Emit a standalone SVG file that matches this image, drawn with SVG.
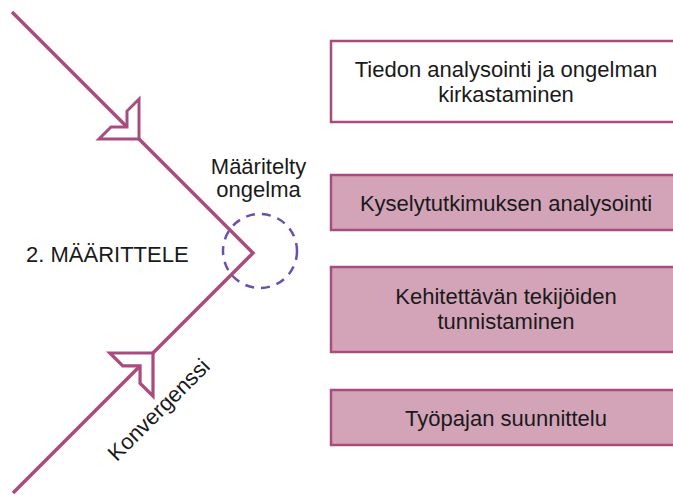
<svg xmlns="http://www.w3.org/2000/svg" width="673" height="495" viewBox="0 0 673 495">
  <style>
    .lbl { font-family: "Liberation Sans", Arial, sans-serif; font-size: 22px; fill: #1a1a1a; }
    .mid { text-anchor: middle; }
    .box { stroke: #a84c7e; stroke-width: 2.5; }
    .plain { fill: #ffffff; }
    .task { fill: #d3a3b8; }
    .path { fill: none; stroke: #a84c7e; stroke-width: 3.5; stroke-linejoin: miter; }
    .head { fill: #ffffff; stroke: #a84c7e; stroke-width: 3; stroke-linejoin: miter; }
    .focus { fill: none; stroke: #6a50ae; stroke-width: 2.5; stroke-dasharray: 9 7; }
  </style>
  <defs>
    <!-- notched open arrowhead, tip at origin, pointing down-right -->
    <path id="notch-head" d="M0,0 L0,-40 L-12,-28 L-12,-12 L-28,-12 L-40,0 Z"/>
  </defs>

  <!-- converging V path -->
  <g id="connectors">
    <polyline class="path" points="12,12 253,253 13,493"/>
    <use href="#notch-head" class="head" transform="translate(139,139)"/>
    <use href="#notch-head" class="head" transform="translate(153,353) scale(1.08,-1.08)"/>
  </g>

  <g id="defined-problem">
    <circle class="focus" cx="260" cy="251" r="37"/>
    <text class="lbl mid" x="258.5" y="174">Määritelty</text>
    <text class="lbl mid" x="258.5" y="197">ongelma</text>
  </g>

  <g id="phase-label">
    <text class="lbl" x="26" y="262">2. MÄÄRITTELE</text>
  </g>

  <g id="convergence-label">
    <text class="lbl mid" transform="translate(164,415) rotate(-45)">Konvergenssi</text>
  </g>

  <!-- boxes run past the right edge of the canvas -->
  <g id="box-analysis">
    <rect class="box plain" x="331" y="41" width="370" height="81"/>
    <text class="lbl mid" x="506" y="77">Tiedon analysointi ja ongelman</text>
    <text class="lbl mid" x="506" y="102">kirkastaminen</text>
  </g>

  <g id="box-survey">
    <rect class="box task" x="331" y="175" width="370" height="55"/>
    <text class="lbl mid" x="506" y="210.5">Kyselytutkimuksen analysointi</text>
  </g>

  <g id="box-factors">
    <rect class="box task" x="331" y="267" width="370" height="85"/>
    <text class="lbl mid" x="506" y="304">Kehitettävän tekijöiden</text>
    <text class="lbl mid" x="506" y="329">tunnistaminen</text>
  </g>

  <g id="box-workshop">
    <rect class="box task" x="331" y="390" width="370" height="55"/>
    <text class="lbl mid" x="506" y="425.5">Työpajan suunnittelu</text>
  </g>
</svg>
